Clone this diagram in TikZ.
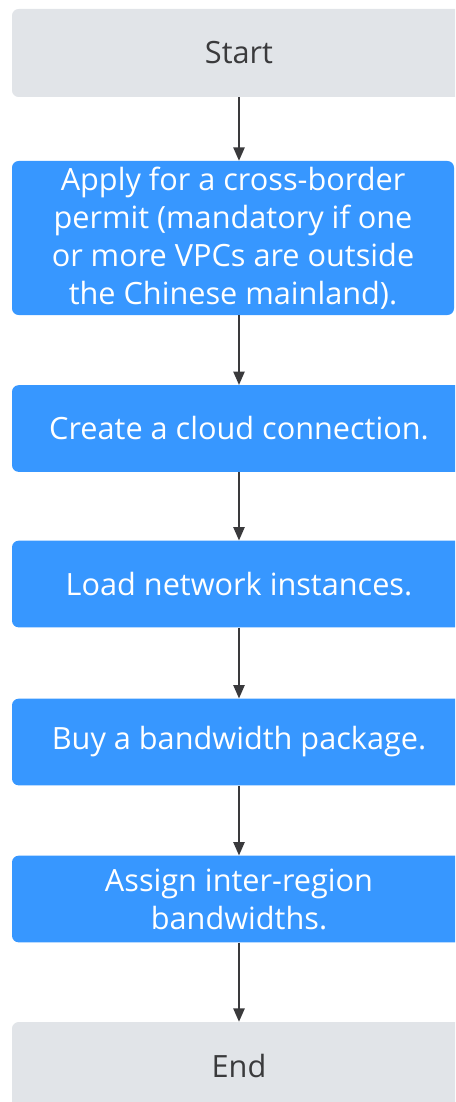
\documentclass[tikz,border=0pt]{standalone}
\usepackage{fontspec}
\setmainfont{Open Sans}
\usetikzlibrary{arrows.meta}
\definecolor{termgray}{HTML}{E1E4E8}
\definecolor{stepblue}{HTML}{3797FF}
\definecolor{arrowgray}{HTML}{3A3A3C}
\begin{document}
\begin{tikzpicture}[x=0.75pt,y=-0.75pt,
    terminal/.style={fill=termgray,rounded corners=5pt,minimum width=340.5pt,minimum height=66pt,
        text=arrowgray,font=\fontsize{23}{28.5}\selectfont,inner sep=0pt},
    stepbox/.style={fill=stepblue,rounded corners=5pt,minimum width=340.5pt,minimum height=65pt,
        text=white,font=\fontsize{23}{28.5}\selectfont,align=center,inner sep=0pt},
    flow/.style={draw=arrowgray,line width=1.1pt,-{Triangle[width=8.5pt,length=10pt]}}]
    \useasboundingbox (0,0) rectangle (455,1102);
    \begin{scope}
    \clip (0,0) rectangle (455,1102);
    %Start
    \node[terminal] (start) at (239,53) {Start};
    %Permit
    \node[stepbox,minimum width=331.5pt,minimum height=115.5pt] (permit) at (233,238)
        {Apply for a cross-border\\permit (mandatory if one\\or more VPCs are outside\\the Chinese mainland).};
    %Cloud connection
    \node[stepbox] (connect) at (239,428.5) {Create a cloud connection.};
    %Network instances
    \node[stepbox] (load) at (239,584) {Load network instances.};
    %Bandwidth package
    \node[stepbox] (buy) at (239,742) {Buy a bandwidth package.};
    %Inter-region bandwidths
    \node[stepbox] (assign) at (239,899) {Assign inter-region\\bandwidths.};
    %End
    \node[terminal] (finish) at (239,1066) {End};
    \end{scope}
    %Arrows
    \draw[flow] (start.south) -- (start.south |- permit.north);
    \draw[flow] (start.south |- permit.south) -- (connect.north);
    \draw[flow] (connect) -- (load);
    \draw[flow] (load) -- (buy);
    \draw[flow] (buy) -- (assign);
    \draw[flow] (assign) -- (finish);
\end{tikzpicture}
\end{document}
